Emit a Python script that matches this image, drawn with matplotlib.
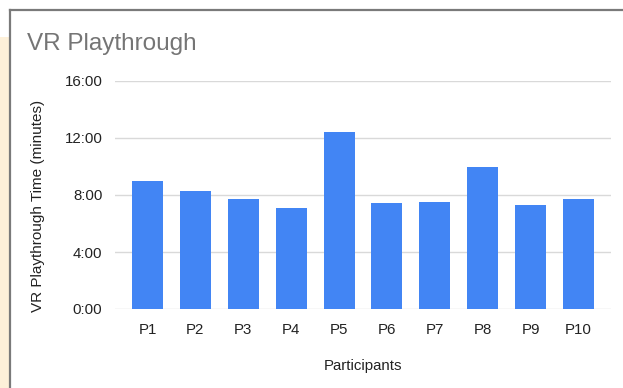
import matplotlib
matplotlib.use("Agg")
import matplotlib.pyplot as plt
from matplotlib.patches import Rectangle
from matplotlib.lines import Line2D
from matplotlib.ticker import FuncFormatter

# datos (minutos)
participants = ['P1', 'P2', 'P3', 'P4', 'P5', 'P6', 'P7', 'P8', 'P9', 'P10']
minutes = [9.0, 8.3, 7.7, 7.07, 12.44, 7.42, 7.51, 9.96, 7.32, 7.7]
y_ticks = [0, 4, 8, 12, 16]

W, H = 623, 388
plt.rcParams['font.family'] = ['Liberation Sans', 'DejaVu Sans']

fig = plt.figure(figsize=(W / 100, H / 100), dpi=100)
fig.patch.set_facecolor('white')

# marco de la captura
fig.patches.append(Rectangle((0, 0), 9 / W, 1 - 37 / H, transform=fig.transFigure,
                             facecolor='#fdf0d9', edgecolor='none'))
fig.lines.append(Line2D([10 / W, 1], [1 - 10 / H, 1 - 10 / H], transform=fig.transFigure,
                        color='#7a7a7a', linewidth=1.6))
fig.lines.append(Line2D([10 / W, 10 / W], [0, 1 - 10 / H], transform=fig.transFigure,
                        color='#7a7a7a', linewidth=1.6))

ax = fig.add_axes([115 / W, 79 / H, 496 / W, 228 / H])
ax.bar(range(len(participants)), minutes, width=0.65, color='#4285f4', zorder=3)

ax.set_xlim(-0.68, len(participants) - 1 + 0.68)
ax.set_ylim(0, 16)
ax.set_yticks(y_ticks)
ax.yaxis.set_major_formatter(FuncFormatter(lambda v, p: '%d:%02d' % (int(v), round((v % 1) * 60))))
ax.set_xticks(range(len(participants)))
ax.set_xticklabels(participants)

ax.grid(axis='y', color='#d9d9d9', linewidth=1, zorder=0)
for s in ax.spines.values():
    s.set_visible(False)
ax.tick_params(length=0, labelsize=10.8, colors='#222222')
ax.tick_params(axis='y', pad=9)
ax.tick_params(axis='x', pad=10)

ax.set_xlabel('Participants', fontsize=10.8, color='#222222', labelpad=16)
fig.text(38 / W, 1 - 206 / H, 'VR Playthrough Time (minutes)', rotation=90,
         ha='center', va='center', fontsize=11, color='#222222')
fig.text(27 / W, 1 - 44 / H, 'VR Playthrough', ha='left', va='center',
         fontsize=17.5, color='#757575')

fig.savefig('out.png', dpi=100)
